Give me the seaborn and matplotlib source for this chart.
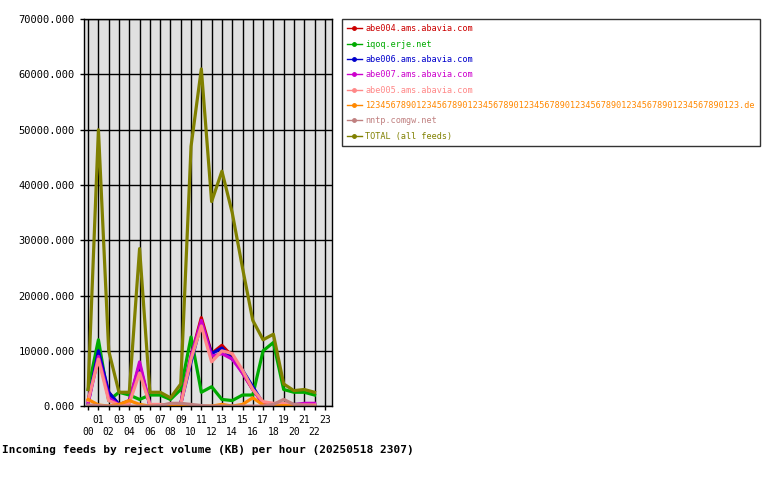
import matplotlib
matplotlib.use("Agg")
import matplotlib.pyplot as plt
import seaborn as sns
import pandas as pd

hours = list(range(23))
xlabels = ["%02d" % h for h in range(24)]

feeds = ["abe004.ams.abavia.com", "iqoq.erje.net", "abe006.ams.abavia.com",
         "abe007.ams.abavia.com", "abe005.ams.abavia.com",
         "1234567890123456789012345678901234567890123456789012345678901234567890123.de",
         "nntp.comgw.net", "TOTAL (all feeds)"]
colors = ["#cc0000", "#00aa00", "#0000cc", "#cc00cc", "#ff8888", "#ff8800", "#c08080", "#808000"]

abe004 = [1000, 9000, 2500, 200, 1000, 7500, 200, 200, 200, 500, 9000, 16000, 9500, 11000, 9000, 6000, 3000, 500, 300, 300, 300, 300, 200]
iqoq = [3000, 12000, 1000, 2500, 2000, 1200, 2000, 2000, 1200, 3000, 12500, 2500, 3500, 1200, 1000, 2000, 2000, 10000, 11500, 3000, 2500, 2500, 2000]
abe006 = [500, 10000, 2500, 300, 800, 7000, 200, 200, 200, 400, 8000, 15000, 9500, 10500, 8500, 6500, 3500, 500, 300, 300, 300, 300, 200]
abe007 = [500, 9000, 1500, 200, 800, 8000, 200, 200, 200, 400, 9000, 15500, 9000, 9500, 8500, 6000, 3000, 500, 200, 200, 200, 500, 500]
abe005 = [1000, 8500, 1000, 200, 500, 6000, 300, 300, 200, 300, 8500, 14500, 8000, 10000, 9500, 6500, 3000, 800, 500, 500, 200, 200, 200]
longname = [1200, 200, 0, 300, 1000, 300, 0, 0, 0, 100, 0, 0, 0, 300, 0, 300, 1500, 200, 0, 100, 0, 0, 0]
nntp = [200, 100, 0, 0, 0, 0, 0, 100, 500, 500, 300, 100, 0, 0, 0, 0, 0, 0, 300, 1200, 300, 100, 0]
total = [3000, 50000, 10000, 2500, 2500, 28500, 2500, 2500, 1500, 4000, 47000, 61000, 37000, 42500, 35000, 25000, 15500, 12000, 13000, 4000, 2800, 3000, 2500]

series = [abe004, iqoq, abe006, abe007, abe005, longname, nntp, total]
rows = []
for name, vals in zip(feeds, series):
    for h, v in zip(hours, vals):
        rows.append({"hour": h, "feed": name, "kb": v})
df = pd.DataFrame(rows)

plt.rcParams["font.family"] = "DejaVu Sans Mono"
fig = plt.figure(figsize=(7.8, 4.8), dpi=100)
ax = fig.add_axes([0.1077, 0.154, 0.318, 0.806])
ax.set_facecolor("#e0e0e0")

sns.lineplot(data=df, x="hour", y="kb", hue="feed", hue_order=feeds,
             palette=colors, linewidth=2.3, ax=ax, legend=False)

ax.set_xlim(-0.4, 23.7)
ax.set_ylim(0, 70000)
ax.set_yticks(range(0, 70001, 10000))
ax.set_yticklabels(["%d.000" % v for v in range(0, 70001, 10000)], fontsize=7.5)
ax.set_xticks(range(24))
ax.set_xticklabels([lab if i % 2 == 1 else "\n" + lab for i, lab in enumerate(xlabels)], fontsize=7)
ax.tick_params(length=3, width=1)
ax.grid(True, color="black", linewidth=1)
ax.set_axisbelow(True)
ax.set_xlabel("Incoming feeds by reject volume (KB) per hour (20250518 2307)",
              fontsize=8, fontweight="bold", labelpad=5)
ax.set_ylabel("")
for s in ax.spines.values():
    s.set_linewidth(1)

handles = [plt.Line2D([], [], color=c, linewidth=1, marker="o", markersize=2.5) for c in colors]
leg = fig.legend(handles, feeds, loc="upper left", bbox_to_anchor=(0.438, 0.96),
                 fontsize=6.1, frameon=True, fancybox=False, edgecolor="black",
                 handlelength=1.8, handletextpad=0.4, labelspacing=0.75, borderaxespad=0,
                 borderpad=0.6)
for t, c in zip(leg.get_texts(), colors):
    t.set_color(c)

fig.savefig("out.png", dpi=100)
